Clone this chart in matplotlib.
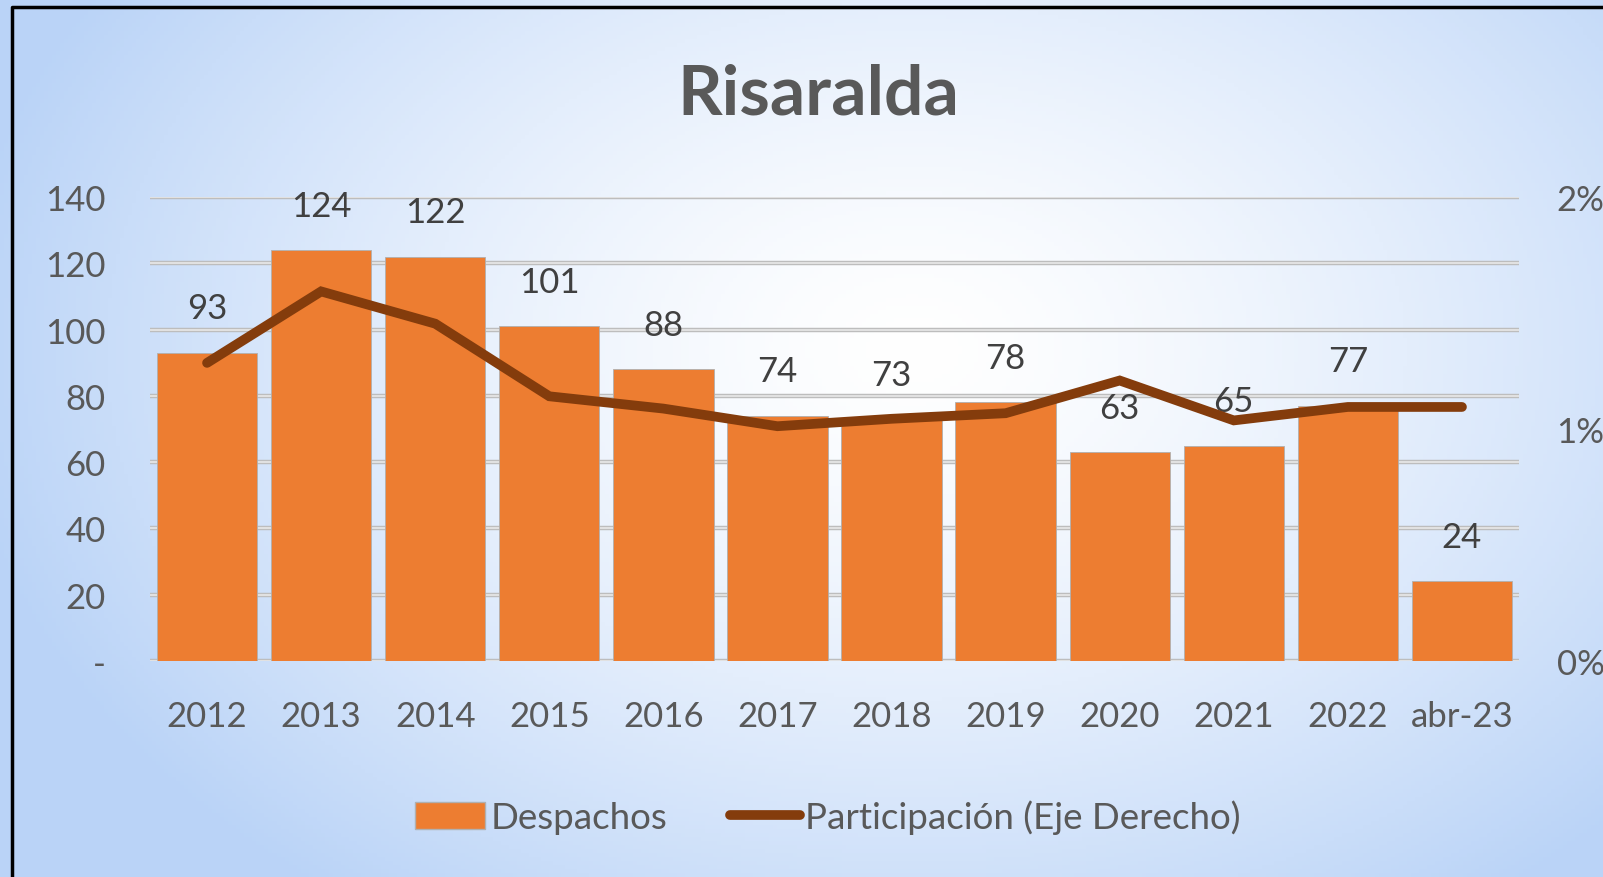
import numpy as np
import matplotlib.pyplot as plt
import matplotlib.patches as mpatches
from matplotlib.lines import Line2D
from matplotlib.ticker import FuncFormatter

plt.rcParams['font.family'] = ['Lato', 'DejaVu Sans']

# datos
anios = ["2012", "2013", "2014", "2015", "2016", "2017", "2018", "2019", "2020", "2021", "2022", "abr-23"]
despachos = [93, 124, 122, 101, 88, 74, 73, 78, 63, 65, 77, 24]
participacion = [1.285, 1.593, 1.454, 1.141, 1.088, 1.012, 1.044, 1.068, 1.209, 1.037, 1.095, 1.095]  # en %

naranja = '#ED7D31'
marron = '#843C0C'
gris_txt = '#595959'
fs = 25

fig = plt.figure(figsize=(16.03, 8.78), dpi=100)

# fondo con degradado radial
bg = fig.add_axes([0, 0, 1, 1], zorder=-10)
xx, yy = np.meshgrid(np.linspace(0, 1, 400), np.linspace(0, 1, 220))
r = np.sqrt(((xx - 0.57) / 0.60) ** 2 + ((yy - 0.40) / 0.78) ** 2)
r = np.clip(r, 0, 1)
c_centro = np.array([1.0, 1.0, 1.0])
c_borde = np.array([0.73, 0.83, 0.97])
img = c_centro[None, None, :] * (1 - r[..., None] ** 1.4) + c_borde[None, None, :] * (r[..., None] ** 1.4)
bg.imshow(img, extent=[0, 1, 0, 1], aspect='auto', origin='upper')
bg.set_xlim(0, 1)
bg.set_ylim(0, 1)
bg.axis('off')
# marco negro (izquierda y arriba)
bg.plot([12 / 1603, 12 / 1603, 1.01], [-0.01, 1 - 8 / 878, 1 - 8 / 878], color='black', lw=2.5)

ax = fig.add_axes([150 / 1603, 216 / 878, 1369 / 1603, 464 / 878])
ax.patch.set_alpha(0)
x = np.arange(len(anios))

ax.set_ylim(0, 140)
ax.set_xlim(-0.5, len(anios) - 0.5)
ax.set_yticks(np.arange(0, 141, 20))
for v in ax.get_yticks():
    ax.axhline(v, color='#BDBDBD', lw=3.2, zorder=0.5)
    ax.axhline(v, color='#E3E3E3', lw=1.4, zorder=0.6)

barras = ax.bar(x, despachos, width=0.88, color=naranja, edgecolor='#B0B0B0', linewidth=0.6, zorder=2)
for xi, v in zip(x, despachos):
    ax.annotate(str(v), (xi, v), xytext=(0, 32), textcoords='offset points',
                ha='center', va='center', fontsize=fs, color='#404040', zorder=5)

ax.yaxis.set_major_formatter(FuncFormatter(lambda v, p: '-' if v == 0 else f'{int(v)}'))
ax.set_xticks(x)
ax.set_xticklabels(anios)
ax.tick_params(axis='both', length=0, labelsize=fs, labelcolor=gris_txt)
ax.tick_params(axis='y', pad=32)
ax.tick_params(axis='x', pad=28)
for s in ax.spines.values():
    s.set_visible(False)

ax2 = ax.twinx()
ax2.plot(x, participacion, color=marron, lw=7, solid_capstyle='round', solid_joinstyle='miter', zorder=4)
ax2.set_ylim(0, 2)
ax2.set_yticks([0, 1, 2])
ax2.yaxis.set_major_formatter(FuncFormatter(lambda v, p: f'{int(v)}%'))
ax2.tick_params(axis='y', length=0, labelsize=fs, labelcolor=gris_txt, pad=27)
for s in ax2.spines.values():
    s.set_visible(False)

fig.text(818 / 1603, 1 - 95 / 878, 'Risaralda', ha='center', va='center',
         fontsize=50, fontweight='bold', color=gris_txt)

handles = [mpatches.Patch(facecolor=naranja, edgecolor='#B0B0B0', label='Despachos'),
           Line2D([0], [0], color=marron, lw=7, solid_capstyle='round', label='Participación (Eje Derecho)')]
fig.legend(handles=handles, loc='center', bbox_to_anchor=(828 / 1603, 1 - 818 / 878), ncol=2,
           frameon=False, fontsize=26.5, labelcolor=gris_txt, handlelength=1.9, handletextpad=0.15,
           columnspacing=1.7, handleheight=0.75)

fig.savefig('out.png', dpi=100)
